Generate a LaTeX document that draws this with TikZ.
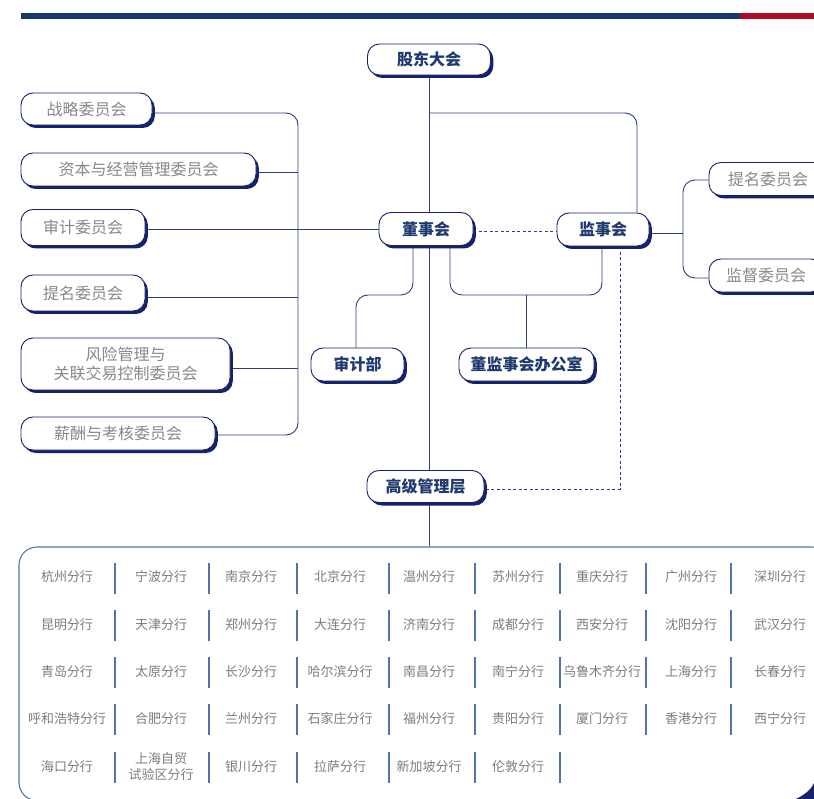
\documentclass[tikz,border=0pt]{standalone}
\usepackage{fontspec}
\setmainfont{Noto Sans CJK SC}
\usetikzlibrary{shadows,backgrounds}
\definecolor{navy}{HTML}{14236B}
\definecolor{linec}{HTML}{2E3D7F}
\definecolor{maintext}{HTML}{1F3A6E}
\definecolor{subtext}{HTML}{888888}
\definecolor{brtext}{HTML}{7C7C7C}
\definecolor{gridc}{HTML}{5672A6}
\definecolor{barblue}{HTML}{17396E}
\definecolor{barred}{HTML}{B00C24}
\tikzset{
  box/.style={draw=navy, line width=0.9pt, fill=white, rounded corners=12pt,
    drop shadow={shadow xshift=2.8pt, shadow yshift=-3pt, fill=navy, opacity=1},
    inner sep=0pt, align=center},
  mainbox/.style={box, font=\fontsize{16}{19}\selectfont\bfseries, text=maintext},
  combox/.style={box, font=\fontsize{16}{19.5}\selectfont, text=subtext},
  conn/.style={draw=linec, line width=0.9pt, rounded corners=12pt},
  dotconn/.style={draw=linec, line width=0.9pt, dash pattern=on 3pt off 2.5pt},
  branch/.style={font=\fontsize{13}{16}\selectfont, text=brtext, align=center, inner sep=0pt},
  sepline/.style={draw=gridc, line width=1.4pt},
}
\begin{document}
\begin{tikzpicture}[x=1pt,y=-1pt]
\path[use as bounding box] (0,0) rectangle (814,799);
\clip (0,0) rectangle (814,799);
% top bar
\fill[barblue] (21,13) rectangle (740,18.6);
\fill[barred] (740,13) rectangle (814,18.6);

% helper coordinates
\coordinate (y113) at (0,113);
\coordinate (y172) at (0,172);
\coordinate (y229) at (0,229);
\coordinate (y231) at (0,231);
\coordinate (y233) at (0,233);
\coordinate (y297) at (0,297);
\coordinate (y368) at (0,368);
\coordinate (y435) at (0,435);
\coordinate (y295) at (0,295);
\coordinate (y489) at (0,489);
\coordinate (y180) at (0,180);
\coordinate (y278) at (0,278);
\coordinate (xbus) at (298,0);
\coordinate (x637) at (637,0);
\coordinate (x413) at (413,0);
\coordinate (x356) at (356,0);
\coordinate (x450) at (450,0);
\coordinate (x602) at (602,0);
\coordinate (x620) at (620,0);
\coordinate (x683) at (683,0);

% main nodes
\node[mainbox, minimum width=123pt, minimum height=31pt] (gd) at (429,59.5) {股东大会};
\node[mainbox, minimum width=94pt, minimum height=33pt] (ds) at (426,229) {董事会};
\node[mainbox, minimum width=92pt, minimum height=33pt] (js) at (603,229.5) {监事会};
\node[mainbox, minimum width=93pt, minimum height=33pt] (sj) at (357.5,364.5) {审计部};
\node[mainbox, minimum width=135pt, minimum height=33pt] (bo) at (526.5,364.5) {董监事会办公室};
\node[mainbox, minimum width=117pt, minimum height=32pt] (gm) at (425.5,486.5) {高级管理层};

% left committees
\node[combox, minimum width=131pt, minimum height=32pt] (zl) at (86.5,109) {战略委员会};
\node[combox, minimum width=235pt, minimum height=33pt] (zb) at (138.5,169.5) {资本与经营管理委员会};
\node[combox, minimum width=124pt, minimum height=36pt] (sjw) at (83,227.5) {审计委员会};
\node[combox, minimum width=124pt, minimum height=36pt] (tm) at (83,293) {提名委员会};
\node[combox, minimum width=209pt, minimum height=52pt] (fx) at (125.5,364) {风险管理与\\关联交易控制委员会};
\node[combox, minimum width=194pt, minimum height=33pt] (xc) at (118,433.5) {薪酬与考核委员会};

% right committees
\node[combox, minimum width=118pt, minimum height=33pt] (tmr) at (768,179) {提名委员会};
\node[combox, minimum width=114pt, minimum height=33pt] (jd) at (766,275.5) {监督委员会};

% branches frame
\node[draw=gridc, line width=1.1pt, rounded corners=18pt, minimum width=811pt, minimum height=253.5pt, inner sep=0pt] (grid) at (424.5,673.75) {};
\fill[navy] (796,799) .. controls (804,795) and (811,790) .. (814,783) -- (814,799) -- cycle;

% connectors (behind nodes)
\begin{scope}[on background layer]
\draw[conn] (gd.south) -- (ds.north -| gd.south);
\draw[conn] (ds.south -| gd.south) -- (gm.north -| gd.south);
\draw[conn] (gd.south |- y113) -| (js.north -| x637);
\draw[conn] (sjw.east |- y229) -- (ds.west |- y229);
\draw[conn] (zl.east |- y113) -| (xbus |- y435) -- (xc.east |- y435);
\draw[conn] (zb.east |- y172) -- (xbus |- y172);
\draw[conn] (tm.east |- y297) -- (xbus |- y297);
\draw[conn] (fx.east |- y368) -- (xbus |- y368);
\draw[conn] (ds.south -| x413) -- (x413 |- y295) -| (sj.north -| x356);
\draw[conn] (ds.south -| x450) |- (x602 |- y295) -- (js.south -| x602);
\draw[conn] (bo.north |- y295) -- (bo.north);
\draw[dotconn] (ds.east |- y231) -- (js.west |- y231);
\draw[dotconn] (js.south -| x620) -- (x620 |- y489) -- (gm.east |- y489);
\draw[conn] (js.east |- y233) -- (x683 |- y233);
\draw[conn] (tmr.west |- y180) -| (x683 |- y278) -- (jd.west |- y278);
\draw[conn] (gm.south -| gd.south) -- (grid.north -| gd.south);
\end{scope}

% branch names
\foreach \x/\t in {67/杭州分行,161/宁波分行,251/南京分行,340/北京分行,429/温州分行,518/苏州分行,602/重庆分行,691/广州分行,780/深圳分行}
  \node[branch] (ra-\x) at (\x,577) {\t};
\foreach \x/\t in {67/昆明分行,161/天津分行,251/郑州分行,340/大连分行,429/济南分行,518/成都分行,602/西安分行,691/沈阳分行,780/武汉分行}
  \node[branch] (rb-\x) at (\x,624.5) {\t};
\foreach \x/\t in {67/青岛分行,161/太原分行,251/长沙分行,340/哈尔滨分行,429/南昌分行,518/南宁分行,602/乌鲁木齐分行,691/上海分行,780/长春分行}
  \node[branch] (rc-\x) at (\x,671.5) {\t};
\foreach \x/\t in {67/呼和浩特分行,161/合肥分行,251/兰州分行,340/石家庄分行,429/福州分行,518/贵阳分行,602/厦门分行,691/香港分行,780/西宁分行}
  \node[branch] (rd-\x) at (\x,719) {\t};
\foreach \x/\t in {67/海口分行,161/{上海自贸\\试验区分行},251/银川分行,340/拉萨分行,429/新加坡分行,518/伦敦分行}
  \node[branch] (re-\x) at (\x,767) {\t};

% separators
\foreach \y in {578,625,672,719.5}
  \foreach \x in {115,209,297,389,475,560,646,731}
    \draw[sepline] (\x,\y-15.5) -- (\x,\y+15.5);
\foreach \x in {115,209,297,389,475,560}
  \draw[sepline] (\x,752) -- (\x,783);
\end{tikzpicture}
\end{document}
